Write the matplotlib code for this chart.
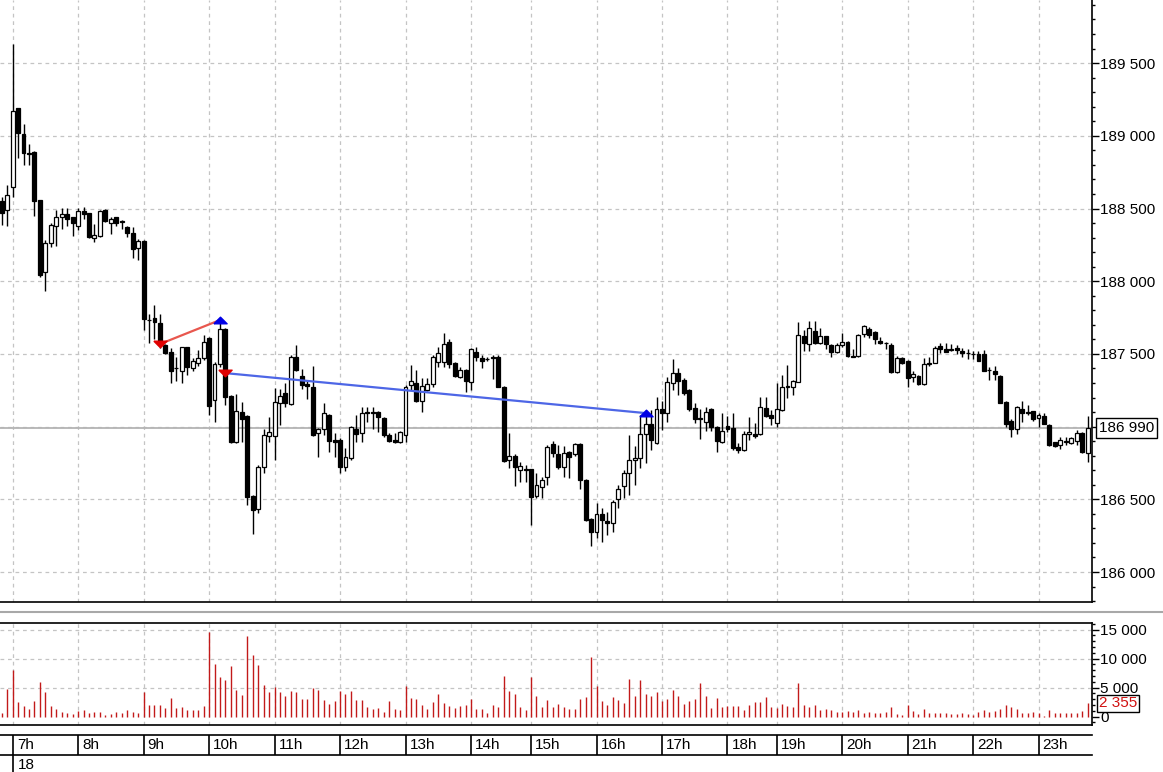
import numpy as np
import matplotlib
matplotlib.use("Agg")
import matplotlib.pyplot as plt
from matplotlib.lines import Line2D
from matplotlib.path import Path
from matplotlib.ticker import MultipleLocator, FuncFormatter
import matplotlib.transforms as mtransforms

plt.rcParams['font.family'] = ['Liberation Sans', 'DejaVu Sans']

# 5-minute bars, 6:50 -> 23:45 (a few empty slots at 14h and 18h)
hour_labels = ['6h', '7h', '8h', '9h', '10h', '11h', '12h', '13h', '14h', '15h',
               '16h', '17h', '18h', '19h', '20h', '21h', '22h', '23h']
bars_per_hour = [2, 12, 12, 12, 12, 12, 12, 12, 11, 12, 12, 12, 9, 12, 12, 12, 12, 10]
day_label = '18'

opens = [188555, 188487, 188646, 189189, 189010, 188882, 188888, 188558, 188065, 188260,
         188382, 188443, 188462, 188443, 188382, 188483, 188467, 188295, 188313, 188489,
         188402, 188443, 188414, 188375, 188329, 188226, 188276, 187730, 187745, 187714,
         187561, 187515, 187400, 187384, 187545, 187401, 187435, 187470, 187607, 187183,
         187430, 187669, 187210, 186896, 187100, 187073, 186523, 186431, 186724, 186937,
         186937, 187160, 187229, 187155, 187481, 187348, 187290, 187275, 186958, 186981,
         187080, 186908, 186908, 186724, 186782, 186981, 186958, 187100, 187100, 187098,
         187061, 186942, 186908, 186896, 186942, 187286, 187302, 187178, 187252, 187293,
         187442, 187446, 187580, 187440, 187343, 187389, 187309, 187515, 187470, 187468,
         187480, 187481, 187275, 186770, 186798, 186701, 186708, 186706, 186523, 186587,
         186651, 186880, 186811, 186724, 186828, 186811, 186878, 186633, 186362, 186277,
         186397, 186351, 186339, 186500, 186591, 186679, 186770, 186782, 186947, 187016,
         186889, 187119, 187096, 187298, 187366, 187320, 187252, 187126, 187060, 187034,
         187119, 186995, 186896, 187004, 186988, 186858, 186839, 186947, 186949, 186949,
         187126, 187080, 187027, 187114, 187270, 187270, 187309, 187623, 187568, 187660,
         187577, 187623, 187561, 187515, 187561, 187580, 187485, 187485, 187635, 187669,
         187648, 187588, 187575, 187561, 187377, 187470, 187451, 187343, 187348, 187293,
         187433, 187440, 187556, 187531, 187533, 187538, 187522, 187506, 187501, 187499,
         187499, 187391, 187384, 187348, 187171, 187041, 186981, 187119, 187100, 187107,
         187057, 187073, 187011, 186892, 186873, 186894, 186889, 186903, 186958, 186820]
highs = [188580, 188661, 189631, 189190, 189079, 188941, 188895, 188560, 188283, 188398,
         188489, 188501, 188501, 188445, 188501, 188508, 188470, 188391, 188490, 188495,
         188439, 188445, 188421, 188380, 188370, 188288, 188285, 187772, 187836, 187774,
         187565, 187538, 187481, 187550, 187550, 187470, 187527, 187630, 187618, 187446,
         187721, 187680, 187215, 187224, 187171, 187078, 186530, 186736, 186981, 187068,
         187263, 187258, 187302, 187490, 187561, 187394, 187320, 187417, 186988, 187160,
         187085, 186958, 186920, 186851, 187005, 187080, 187133, 187137, 187137, 187105,
         187068, 186954, 186954, 186970, 187285, 187423, 187390, 187332, 187332, 187495,
         187545, 187646, 187600, 187445, 187412, 187395, 187540, 187550, 187492, 187480,
         187492, 187490, 187280, 186954, 186811, 186759, 186736, 186710, 186679, 186655,
         186873, 186903, 186873, 186866, 186835, 186887, 186887, 186640, 186370, 186472,
         186438, 186415, 186495, 186598, 186701, 186942, 186866, 187080, 187114, 187114,
         187206, 187178, 187343, 187463, 187401, 187337, 187260, 187160, 187119, 187137,
         187125, 187005, 187096, 187073, 187096, 186889, 186970, 187064, 187023, 187201,
         187201, 187114, 187302, 187352, 187423, 187320, 187721, 187664, 187728, 187728,
         187676, 187625, 187565, 187575, 187642, 187590, 187531, 187635, 187698, 187687,
         187655, 187614, 187584, 187577, 187485, 187481, 187460, 187385, 187355, 187470,
         187476, 187554, 187572, 187577, 187570, 187561, 187538, 187531, 187522, 187520,
         187527, 187408, 187417, 187355, 187175, 187050, 187142, 187176, 187148, 187110,
         187091, 187091, 187016, 186897, 186926, 186930, 186930, 186975, 186965, 187073]
lows = [188390, 188382, 188581, 188849, 188801, 188801, 188450, 188030, 187935, 188233,
        188242, 188357, 188382, 188313, 188352, 188425, 188300, 188271, 188305, 188410,
        188322, 188382, 188359, 188302, 188161, 188146, 187664, 187573, 187600, 187538,
        187500, 187302, 187316, 187302, 187355, 187384, 187417, 187458, 187080, 187034,
        187412, 187148, 186890, 186890, 186896, 186461, 186259, 186404, 186683, 186896,
        186770, 187011, 187137, 187148, 187380, 187256, 187188, 186935, 186793, 186942,
        186827, 186793, 186683, 186695, 186770, 186896, 186896, 187034, 186981, 186964,
        186930, 186896, 186890, 186890, 186896, 187252, 187171, 187102, 187245, 187273,
        187412, 187408, 187400, 187340, 187335, 187240, 187252, 187450, 187401, 187450,
        187325, 187270, 186760, 186713, 186591, 186621, 186621, 186323, 186507, 186507,
        186598, 186793, 186706, 186655, 186645, 186800, 186569, 186350, 186179, 186232,
        186209, 186255, 186277, 186438, 186507, 186530, 186598, 186713, 186752, 186839,
        186880, 186977, 187034, 187252, 187217, 187217, 187110, 187023, 186913, 186972,
        186972, 186827, 186890, 186964, 186839, 186820, 186832, 186908, 186919, 186942,
        187068, 187011, 186995, 187108, 187194, 187217, 187305, 187522, 187522, 187570,
        187570, 187531, 187476, 187505, 187550, 187476, 187476, 187476, 187614, 187607,
        187566, 187566, 187531, 187370, 187370, 187430, 187270, 187309, 187286, 187286,
        187417, 187435, 187504, 187510, 187520, 187499, 187481, 187463, 187463, 187453,
        187380, 187320, 187320, 187160, 186999, 186930, 186949, 187034, 187080, 187041,
        186995, 187016, 186870, 186859, 186844, 186873, 186880, 186873, 186820, 186754]
closes = [188470, 188593, 189170, 189021, 188879, 188875, 188553, 188042, 188260, 188386,
          188439, 188462, 188425, 188398, 188483, 188460, 188306, 188318, 188483, 188416,
          188425, 188398, 188410, 188329, 188219, 188276, 187738, 187735, 187717, 187561,
          187508, 187384, 187405, 187545, 187408, 187451, 187470, 187584, 187142, 187430,
          187669, 187206, 186896, 187107, 187052, 186518, 186426, 186720, 186942, 186961,
          187167, 187212, 187164, 187476, 187389, 187286, 187282, 186942, 186983, 187091,
          186903, 186894, 186724, 186793, 187000, 186949, 187091, 187096, 187094, 187068,
          186942, 186903, 186894, 186961, 187275, 187313, 187178, 187279, 187293, 187481,
          187508, 187568, 187430, 187348, 187389, 187313, 187531, 187476, 187453, 187463,
          187475, 187275, 186765, 186798, 186724, 186729, 186704, 186518, 186598, 186633,
          186862, 186816, 186724, 186821, 186793, 186878, 186633, 186358, 186277, 186397,
          186358, 186339, 186483, 186573, 186679, 186770, 186782, 186949, 187016, 186908,
          187119, 187096, 187309, 187366, 187316, 187229, 187119, 187050, 187055, 187102,
          186999, 186903, 186972, 186985, 186851, 186839, 186949, 186961, 186935, 187137,
          187073, 187060, 187121, 187270, 187278, 187313, 187630, 187577, 187676, 187577,
          187623, 187566, 187515, 187561, 187580, 187485, 187481, 187630, 187692, 187630,
          187600, 187577, 187572, 187377, 187470, 187440, 187336, 187362, 187293, 187430,
          187437, 187538, 187531, 187515, 187529, 187527, 187508, 187504, 187499, 187453,
          187384, 187387, 187359, 187164, 187016, 186981, 187133, 187091, 187096, 187050,
          187080, 187016, 186873, 186868, 186908, 186899, 186919, 186958, 186827, 186990]
volumes = [690, 4770, 8100, 2590, 1840, 1320, 2700, 5980, 4250, 1840,
           1320, 750, 575, 460, 1035, 1150, 690, 805, 805, 290,
           460, 750, 575, 1150, 750, 690, 4250, 2010, 2010, 2010,
           1550, 3220, 1550, 1725, 1150, 1150, 1150, 1840, 14600, 9085,
           6900, 6325, 8740, 4600, 3740, 13915, 10640, 8910, 5460, 4310,
           5060, 4250, 3620, 4430, 4250, 3050, 3050, 4945, 4600, 2875,
           2185, 2760, 4430, 3910, 4430, 2875, 2875, 1610, 1265, 1495,
           805, 2700, 1320, 1150, 5290, 3160, 3050, 2010, 1320, 2530,
           3910, 2360, 1840, 1495, 1840, 2070, 3105, 1320, 1320, 690,
           2010, 1670, 7015, 4430, 3910, 1670, 1150, 6840, 3565, 1670,
           2930, 1610, 2185, 1670, 1320, 1320, 3105, 3450, 10290, 5290,
           2700, 2010, 3390, 2875, 2360, 6440, 3565, 6325, 3910, 3565,
           4255, 2700, 3050, 4600, 3565, 2185, 2700, 3105, 5810, 3565,
           1495, 3220, 1670, 1840, 1840, 1840, 1150, 2010, 2530, 2530,
           3390, 1670, 1495, 2185, 1840, 1610, 5865, 1955, 1610, 1955,
           1150, 1320, 1150, 860, 805, 1035, 805, 1150, 575, 805,
           575, 575, 805, 1610, 460, 290, 1955, 978, 460, 1320,
           575, 575, 575, 575, 460, 460, 575, 460, 230, 805,
           1150, 805, 978, 1380, 2010, 1725, 1320, 575, 575, 805,
           690, 115, 1150, 575, 575, 575, 575, 575, 978, 2355]

# trades: (entry bar, entry price, exit bar, exit price, line colour)
trades = [(29, 187568, 40, 187733, '#e8574e'),
          (41, 187368, 118, 187093, '#4d66e6')]
last_price = 186990

n = len(closes)
x = np.arange(n)
hour_start = np.concatenate([[0], np.cumsum(bars_per_hour)[:-1]])
tick_pos = hour_start[1:]
tick_lab = hour_labels[1:]

W, H = 1163, 772
FS = 11
fig = plt.figure(figsize=(W / 100, H / 100), dpi=100)
fig.patch.set_facecolor('white')

right = 1092 / W
ax = fig.add_axes([0, 1 - 601.7 / H, right, 601.7 / H])
axv = fig.add_axes([0, 1 - 725.3 / H, right, (725.3 - 622.7) / H])
axs = fig.add_axes([0, 1 - 755.3 / H, right, 20 / H])

xlim = (-0.31, 199.8)
grid_kw = dict(color='#c4c4c4', lw=0.9, ls=(0, (3, 3)), zorder=0)

# ---- price panel
ax.set_xlim(*xlim)
ax.set_ylim(185796, 189934)
for p in tick_pos:
    ax.axvline(p, **grid_kw)
for yv in range(186000, 190000, 500):
    ax.axhline(yv, **grid_kw)
ax.axhline(last_price, color='#b4b4b4', lw=1.3, zorder=1)

o = np.array(opens); c = np.array(closes)
up = c >= o
ax.vlines(x, lows, highs, color='black', lw=1.0, zorder=2)
ax.bar(x, np.abs(c - o), bottom=np.minimum(o, c), width=0.72,
       color=np.where(up, 'white', 'black'), edgecolor='black', lw=0.9, zorder=3)

tri_down = Path([(-1, 0.5), (1, 0.5), (0, -0.5), (-1, 0.5)])
tri_up = Path([(-1, -0.5), (1, -0.5), (0, 0.5), (-1, -0.5)])
for b0, p0, b1, p1, col in trades:
    ax.plot([b0, b1], [p0, p1], color=col, lw=1.6, zorder=4)
    ax.plot(b0, p0, marker=tri_down, ms=9.5, color='#e00000', mec='#e00000', zorder=5)
    ax.plot(b1, p1, marker=tri_up, ms=9.5, color='#0000e6', mec='#0000e6', zorder=5)

fmt = FuncFormatter(lambda v, _: f"{int(round(v)):,}".replace(",", " "))
ax.yaxis.tick_right()
ax.yaxis.set_major_locator(MultipleLocator(500))
ax.yaxis.set_minor_locator(MultipleLocator(100))
ax.yaxis.set_major_formatter(fmt)
ax.tick_params(axis='y', which='major', length=5, width=1, pad=1, labelsize=FS)
ax.tick_params(axis='y', which='minor', length=2.2, width=1)
ax.set_xticks([])
for s in ['top', 'left']:
    ax.spines[s].set_visible(False)
ax.spines['right'].set_linewidth(1.2)
ax.spines['bottom'].set_linewidth(1.2)
ax.annotate(fmt(last_price, None), xy=(1.0, last_price), xycoords=('axes fraction', 'data'),
            xytext=(5, 0), textcoords='offset points', va='center', ha='left', fontsize=FS,
            bbox=dict(boxstyle='square,pad=0.2', fc='white', ec='black', lw=1.0),
            annotation_clip=False, zorder=10)

# ---- volume panel
axv.set_xlim(*xlim)
axv.set_ylim(-1483, 16206)
for p in tick_pos:
    axv.axvline(p, **grid_kw)
for yv in (5000, 10000, 15000):
    axv.axhline(yv, **grid_kw)
axv.vlines(x, 0, volumes, color='#c21a1a', lw=1.0, zorder=2)
axv.yaxis.tick_right()
axv.yaxis.set_major_locator(MultipleLocator(5000))
axv.yaxis.set_minor_locator(MultipleLocator(1000))
axv.yaxis.set_major_formatter(fmt)
axv.tick_params(axis='y', which='major', length=5, width=1, pad=1, labelsize=FS)
axv.tick_params(axis='y', which='minor', length=2.2, width=1)
axv.set_xticks([])
axv.spines['left'].set_visible(False)
for s in ['top', 'bottom', 'right']:
    axv.spines[s].set_linewidth(1.2)
axv.annotate(fmt(volumes[-1], None), xy=(1.0, volumes[-1]), xycoords=('axes fraction', 'data'),
             xytext=(5, 0), textcoords='offset points', va='center', ha='left', fontsize=FS,
             color='#d01010',
             bbox=dict(boxstyle='square,pad=0.1', fc='white', ec='black', lw=1.0),
             annotation_clip=False, zorder=10)

# ---- time strip
axs.set_xlim(*xlim)
axs.set_ylim(0, 1)
axs.set_xticks([]); axs.set_yticks([])
for s in ['left', 'right']:
    axs.spines[s].set_visible(False)
for s in ['top', 'bottom']:
    axs.spines[s].set_linewidth(1.2)
for p, lab in zip(tick_pos, tick_lab):
    axs.axvline(p, color='black', lw=1.2)
    axs.annotate(lab, xy=(p, 0.5), xytext=(3, 0), textcoords='offset points',
                 va='center', ha='left', fontsize=FS)

trans = mtransforms.blended_transform_factory(axs.transData, fig.transFigure)
fig.add_artist(Line2D([tick_pos[0], tick_pos[0]], [0, 1 - 755.3 / H], transform=trans,
                      color='black', lw=1.2))
fig.text(18 / W, 1 - 765 / H, day_label, va='center', ha='left', fontsize=FS)

# separator between panels
fig.add_artist(Line2D([0, 1], [1 - 612 / H, 1 - 612 / H], transform=fig.transFigure,
                      color='#a8a8a8', lw=1.5))

fig.savefig('out.png', dpi=100, facecolor='white')
